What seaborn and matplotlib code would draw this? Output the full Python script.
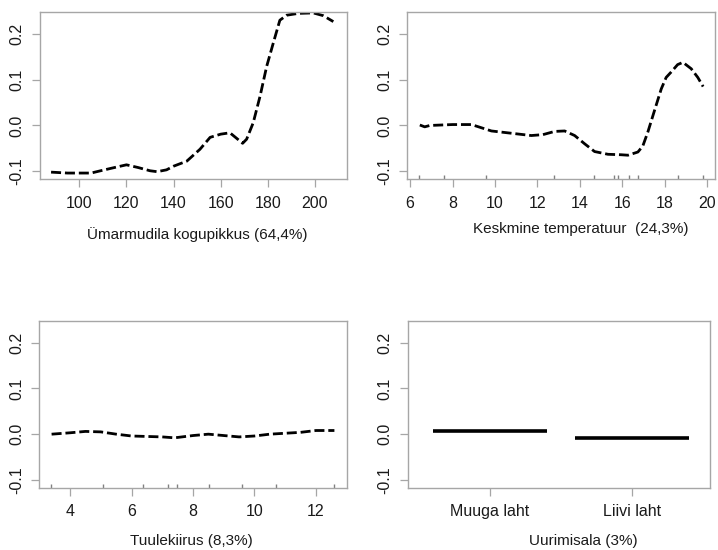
import numpy as np
import pandas as pd
import matplotlib
matplotlib.use("Agg")
import matplotlib.pyplot as plt
import seaborn as sns

# ---- data ----
len_x = [88, 95, 101, 105, 109, 114, 120, 125, 130, 133, 137, 140, 145.6, 151.2, 155.5, 160, 163.9, 166.5, 169.3, 171, 173.8, 176.7, 179.5, 182.3, 185.1, 188, 193, 199.3, 203.5, 207.8]
len_y = [-0.102, -0.104, -0.104, -0.104, -0.099, -0.093, -0.086, -0.092, -0.099, -0.101, -0.097, -0.089, -0.078, -0.052, -0.026, -0.019, -0.016, -0.027, -0.039, -0.03, 0.006, 0.064, 0.129, 0.18, 0.23, 0.241, 0.245, 0.246, 0.24, 0.227]

temp_x = [6.46, 6.69, 6.93, 8.0, 8.89, 9.83, 10.77, 11.71, 12.26, 12.81, 13.28, 13.75, 14.22, 14.69, 15.32, 15.94, 16.26, 16.73, 16.96, 17.2, 17.52, 17.83, 18.06, 18.3, 18.6, 18.85, 19.24, 19.55, 19.8]
temp_y = [0.001, -0.003, 0.0, 0.002, 0.002, -0.012, -0.017, -0.022, -0.02, -0.013, -0.012, -0.022, -0.04, -0.057, -0.063, -0.064, -0.065, -0.058, -0.045, -0.014, 0.034, 0.08, 0.105, 0.117, 0.133, 0.138, 0.124, 0.105, 0.085]
temp_rug = [6.44, 7.6, 9.58, 12.78, 14.66, 15.6, 15.8, 16.29, 16.72, 18.64, 19.8]

wind_x = [3.4, 4.0, 4.5, 5.0, 5.5, 6.0, 6.5, 7.0, 7.4, 8.0, 8.5, 9.0, 9.5, 10.0, 10.5, 11.0, 11.5, 12.0, 12.6]
wind_y = [0.0, 0.003, 0.006, 0.005, 0.0, -0.004, -0.005, -0.006, -0.008, -0.003, 0.0, -0.003, -0.006, -0.004, 0.0, 0.002, 0.004, 0.008, 0.008]
wind_rug = [3.37, 5.08, 6.38, 7.2, 7.47, 8.51, 9.59, 10.7, 12.6]

areas = ["Muuga laht", "Liivi laht"]
area_y = [0.008, -0.008]

xlabels = ["Ümarmudila kogupikkus (64,4%)", "Keskmine temperatuur  (24,3%)",
           "Tuulekiirus (8,3%)", "Uurimisala (3%)"]
yticks = [-0.1, 0.0, 0.1, 0.2]

# ---- style ----
sns.set_theme(style="white")
plt.rcParams["font.family"] = ["Liberation Sans", "DejaVu Sans"]
FRAME = "#a6a6a6"
TXT = "#1a1a1a"

W, H = 718, 550
fig = plt.figure(figsize=(W / 100, H / 100), dpi=100)

def axes_px(l, t, r, b):
    return fig.add_axes([l / W, 1 - b / H, (r - l) / W, (b - t) / H])

ax1 = axes_px(40, 12, 347, 179)
ax2 = axes_px(407.3, 12, 715, 179)
ax3 = axes_px(39.3, 320.7, 346.7, 487.7)
ax4 = axes_px(408, 320.7, 709.7, 487.7)

dash = (3.6, 1.4)
lw = 2.0

sns.lineplot(x=len_x, y=len_y, ax=ax1, color="black", lw=lw, dashes=False)
sns.lineplot(x=temp_x, y=temp_y, ax=ax2, color="black", lw=lw, dashes=False)
sns.lineplot(x=wind_x, y=wind_y, ax=ax3, color="black", lw=lw, dashes=False)
for a in (ax1, ax2, ax3):
    for ln in a.get_lines():
        ln.set_dashes(dash)

sns.rugplot(x=temp_rug, ax=ax2, height=0.025, color="#808080", lw=0.9)
sns.rugplot(x=wind_rug, ax=ax3, height=0.025, color="#808080", lw=0.9)

pos = np.arange(len(areas))
ax4.hlines(area_y, pos - 0.4, pos + 0.4, color="black", lw=2.6)
ax4.set_xticks(pos)
ax4.set_xticklabels(areas)

ax1.set_xlim(83.3, 213.6)
ax1.set_xticks([100, 120, 140, 160, 180, 200])
ax2.set_xlim(5.87, 20.36)
ax2.set_xticks([6, 8, 10, 12, 14, 16, 18, 20])
ax3.set_xlim(3.0, 13.0)
ax3.set_xticks([4, 6, 8, 10, 12])
ax4.set_xlim(-0.574, 1.546)

# (x, y, vertical alignment) of each x-axis title in axes coordinates
label_pos = [(0.511, -0.335, "center"), (0.565, -0.30, "center"),
             (0.496, -0.344, "baseline"), (0.58, -0.344, "baseline")]
for a, lab, lp in zip((ax1, ax2, ax3, ax4), xlabels, label_pos):
    a.set_ylim(-0.117, 0.248)
    a.set_yticks(yticks)
    a.set_yticklabels([f"{v:.1f}" for v in yticks], rotation=90, va="center")
    a.set_xlabel(lab, fontsize=11, color=TXT)
    a.set_ylabel("")
    a.xaxis.set_label_coords(lp[0], lp[1])
    a.xaxis.label.set_va(lp[2])
    for s in a.spines.values():
        s.set_color(FRAME)
        s.set_linewidth(1.0)
    a.tick_params(axis="both", which="major", direction="out", length=6,
                  width=0.9, color=FRAME, labelsize=11.5, labelcolor=TXT,
                  bottom=True, left=True)
    a.tick_params(axis="x", pad=6)
    a.tick_params(axis="y", pad=5)

fig.savefig("out.png", dpi=100)
